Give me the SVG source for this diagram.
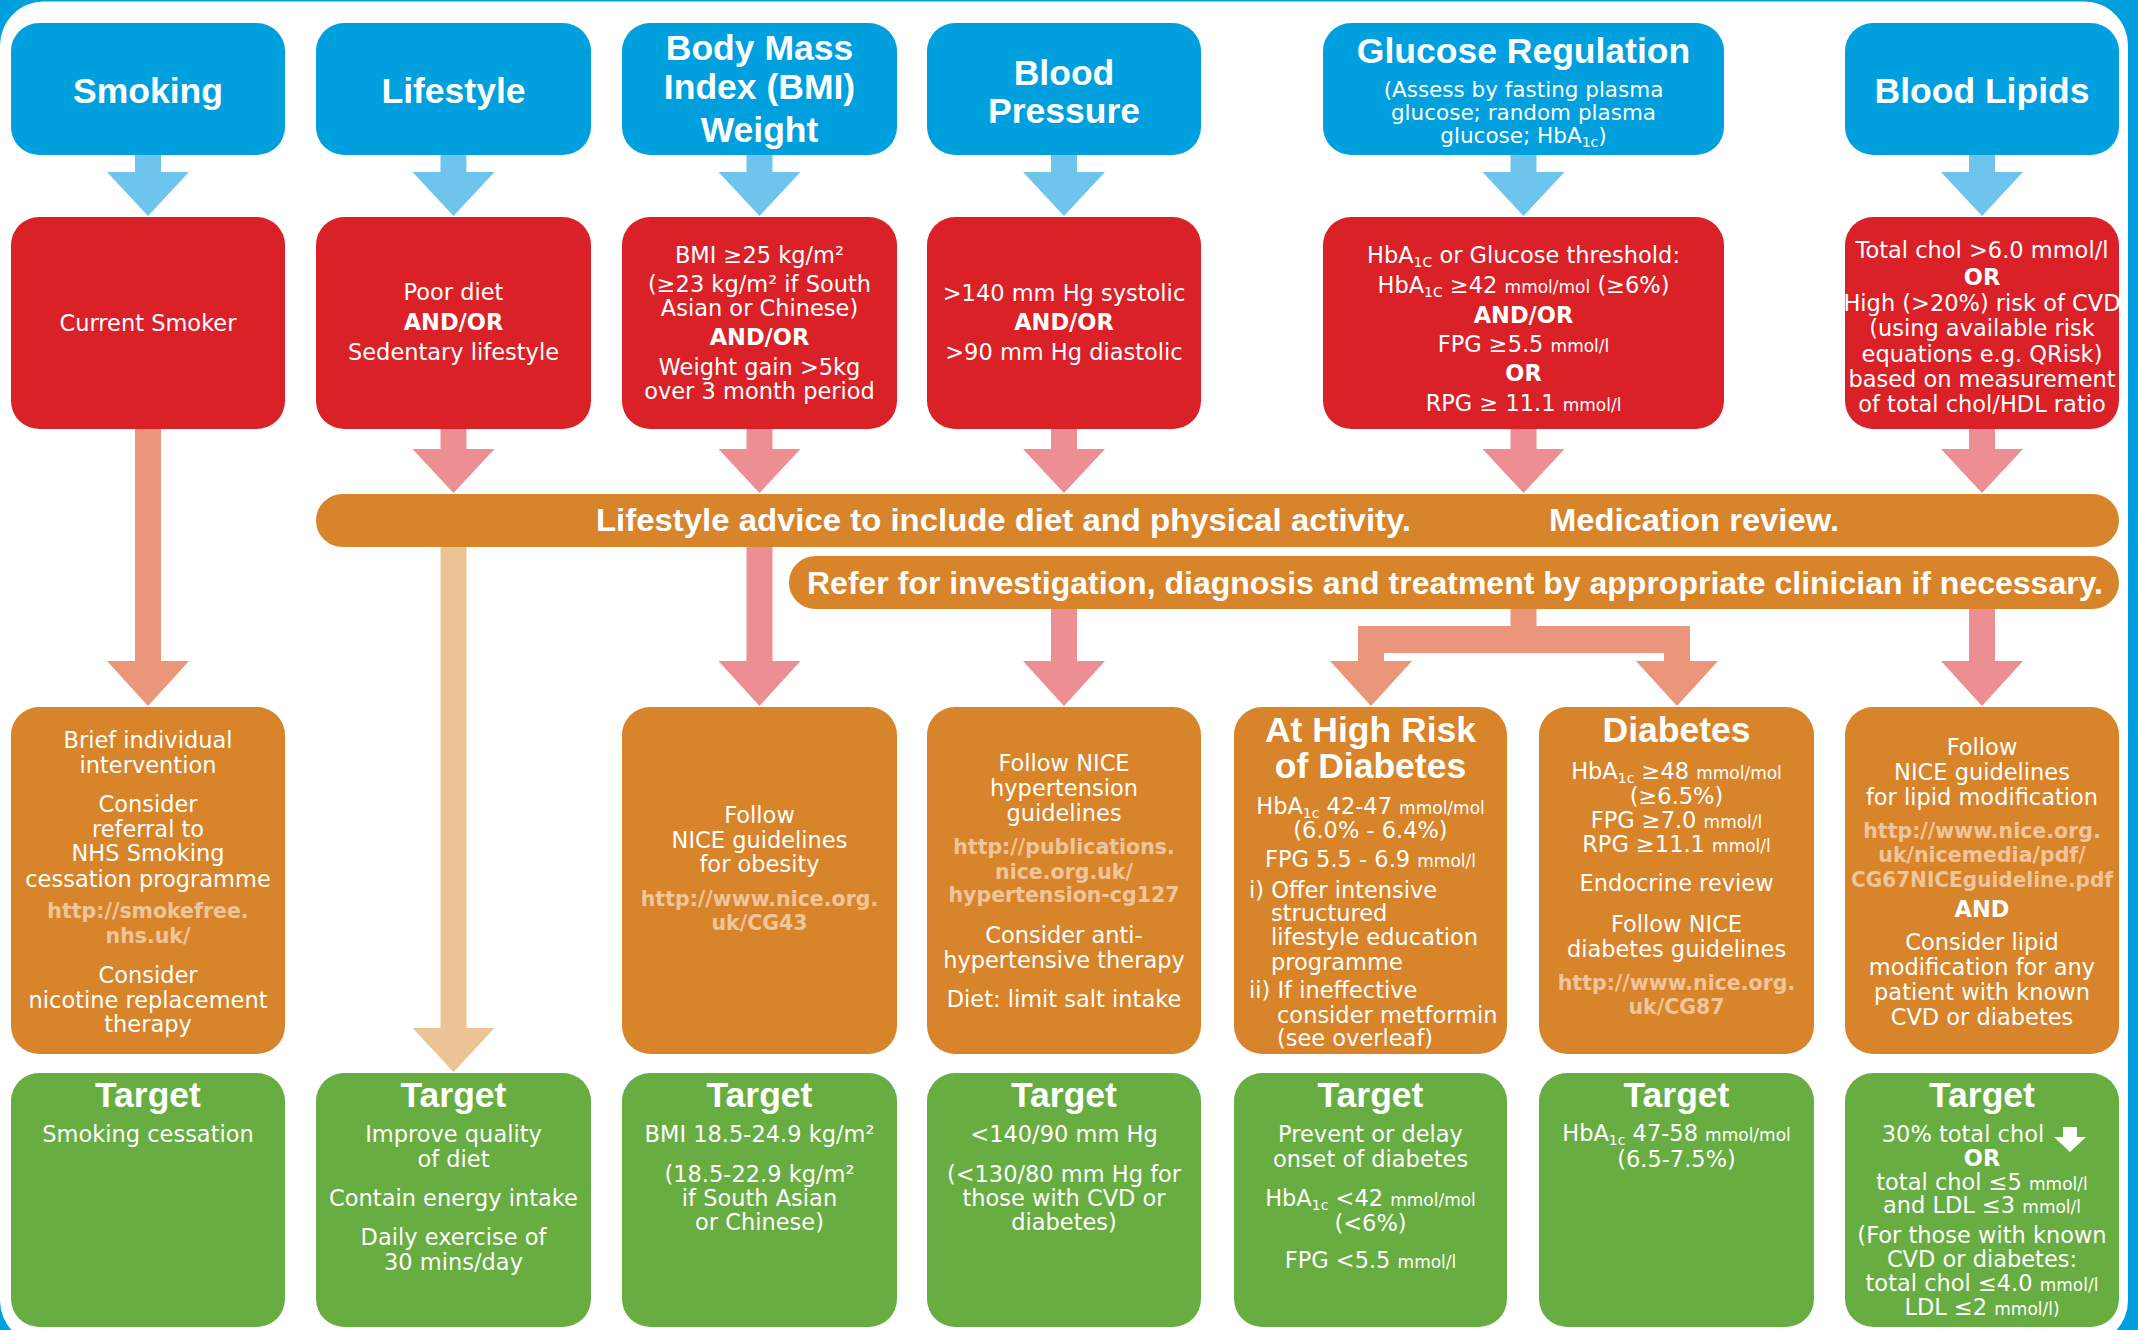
<svg xmlns="http://www.w3.org/2000/svg" width="2138" height="1330" viewBox="0 0 2138 1330">
<style>
.hd{font-family:"Liberation Sans",Arial,sans-serif;font-weight:bold;font-size:35.5px;fill:#fff;text-anchor:middle}
.t{font-family:"DejaVu Sans",sans-serif;font-size:22.5px;fill:#fff;text-anchor:middle}
.l{text-anchor:start}
.b{font-weight:bold}
.sh{font-size:21.5px}
.url{font-family:"DejaVu Sans",sans-serif;font-weight:bold;font-size:20.5px;fill:#f1c59c;text-anchor:middle}
.u{font-size:17px}
.s{font-size:14px}
.band{font-family:"Liberation Sans",Arial,sans-serif;font-weight:bold;font-size:31px;fill:#fff}
.blue{fill:#00a0de}
.red{fill:#da2128}
.org{fill:#d8842a}
.grn{fill:#68ad41}
.ab{fill:#6dc5ee}
.ap{fill:#ec8e92}
.as{fill:#eb957b}
.ae{fill:#ecc395}
</style>
<rect x="0" y="0" width="2138" height="1330" class="blue"/>
<rect x="0" y="1.5" width="2128" height="1343" rx="44" ry="44" fill="#fff"/>

<g id="connectors">
  <polygon class="ab" points="135,154 161,154 161,172 189,172 148,216 107,172 135,172"/>
  <polygon class="ab" points="440.5,154 466.5,154 466.5,172 494.5,172 453.5,216 412.5,172 440.5,172"/>
  <polygon class="ab" points="746.5,154 772.5,154 772.5,172 800.5,172 759.5,216 718.5,172 746.5,172"/>
  <polygon class="ab" points="1051,154 1077,154 1077,172 1105,172 1064,216 1023,172 1051,172"/>
  <polygon class="ab" points="1510.5,154 1536.5,154 1536.5,172 1564.5,172 1523.5,216 1482.5,172 1510.5,172"/>
  <polygon class="ab" points="1969,154 1995,154 1995,172 2023,172 1982,216 1941,172 1969,172"/>
  <polygon class="ap" points="440.5,428 466.5,428 466.5,449 494.5,449 453.5,493 412.5,449 440.5,449"/>
  <polygon class="ap" points="746.5,428 772.5,428 772.5,449 800.5,449 759.5,493 718.5,449 746.5,449"/>
  <polygon class="ap" points="1051,428 1077,428 1077,449 1105,449 1064,493 1023,449 1051,449"/>
  <polygon class="ap" points="1510.5,428 1536.5,428 1536.5,449 1564.5,449 1523.5,493 1482.5,449 1510.5,449"/>
  <polygon class="ap" points="1969,428 1995,428 1995,449 2023,449 1982,493 1941,449 1969,449"/>
  <polygon class="as" points="135,428 161,428 161,661 189,661 148,706 107,661 135,661"/>
  <polygon class="ae" points="440.5,546 466.5,546 466.5,1028 494.5,1028 453.5,1072 412.5,1028 440.5,1028"/>
  <polygon class="ap" points="746.5,546 772.5,546 772.5,661 800.5,661 759.5,706 718.5,661 746.5,661"/>
  <polygon class="ap" points="1051,608 1077,608 1077,661 1105,661 1064,706 1023,661 1051,661"/>
  <polygon class="ap" points="1969,608 1995,608 1995,661 2023,661 1982,706 1941,661 1969,661"/>
  <polygon class="as" points="1510.5,608 1536.5,608 1536.5,626 1690,626 1690,661 1718,661 1677,706 1636,661 1664,661 1664,653 1384,653 1384,661 1412,661 1371,706 1330,661 1358,661 1358,626 1510.5,626"/>
</g>

<g id="band-lifestyle">
  <rect x="316" y="494" width="1803" height="53" rx="26.5" class="org"/>
  <text class="band" x="596" y="531" textLength="815" lengthAdjust="spacingAndGlyphs">Lifestyle advice to include diet and physical activity.</text>
  <text class="band" x="1549" y="531" textLength="290" lengthAdjust="spacingAndGlyphs">Medication review.</text>
</g>
<g id="band-refer">
  <rect x="789" y="556" width="1330" height="53" rx="26.5" class="org"/>
  <text class="band" x="807" y="594" textLength="1296" lengthAdjust="spacingAndGlyphs">Refer for investigation, diagnosis and treatment by appropriate clinician if necessary.</text>
</g>

<g id="h-smoking"><rect x="11" y="23" width="274" height="132" rx="28" class="blue"/>
  <text class="hd" x="148" y="103">Smoking</text></g>
<g id="h-lifestyle"><rect x="316" y="23" width="275" height="132" rx="28" class="blue"/>
  <text class="hd" x="453.5" y="103">Lifestyle</text></g>
<g id="h-bmi"><rect x="622" y="23" width="275" height="132" rx="28" class="blue"/>
  <text class="hd" x="759.5" y="60">Body Mass</text>
  <text class="hd" x="759.5" y="99">Index (BMI)</text>
  <text class="hd" x="759.5" y="142">Weight</text></g>
<g id="h-bp"><rect x="927" y="23" width="274" height="132" rx="28" class="blue"/>
  <text class="hd" x="1064" y="85">Blood</text>
  <text class="hd" x="1064" y="123">Pressure</text></g>
<g id="h-glucose"><rect x="1323" y="23" width="401" height="132" rx="28" class="blue"/>
  <text class="hd" x="1523.5" y="63">Glucose Regulation</text>
  <text class="t sh" x="1523.5" y="97">(Assess by fasting plasma</text>
  <text class="t sh" x="1523.5" y="120">glucose; random plasma</text>
  <text class="t sh" x="1523.5" y="143">glucose; HbA<tspan class="s" dy="4">1c</tspan><tspan dy="-4">)</tspan></text></g>
<g id="h-lipids"><rect x="1845" y="23" width="274" height="132" rx="28" class="blue"/>
  <text class="hd" x="1982" y="103">Blood Lipids</text></g>

<g id="r-smoking"><rect x="11" y="217" width="274" height="212" rx="28" class="red"/>
  <text class="t" x="148" y="331">Current Smoker</text></g>
<g id="r-lifestyle"><rect x="316" y="217" width="275" height="212" rx="28" class="red"/>
  <text class="t" x="453.5" y="300">Poor diet</text>
  <text class="t b" x="453.5" y="330">AND/OR</text>
  <text class="t" x="453.5" y="360">Sedentary lifestyle</text></g>
<g id="r-bmi"><rect x="622" y="217" width="275" height="212" rx="28" class="red"/>
  <text class="t" x="759.5" y="263">BMI ≥25 kg/m²</text>
  <text class="t" x="759.5" y="292">(≥23 kg/m² if South</text>
  <text class="t" x="759.5" y="316">Asian or Chinese)</text>
  <text class="t b" x="759.5" y="345">AND/OR</text>
  <text class="t" x="759.5" y="375">Weight gain &gt;5kg</text>
  <text class="t" x="759.5" y="399">over 3 month period</text></g>
<g id="r-bp"><rect x="927" y="217" width="274" height="212" rx="28" class="red"/>
  <text class="t" x="1064" y="301">&gt;140 mm Hg systolic</text>
  <text class="t b" x="1064" y="330">AND/OR</text>
  <text class="t" x="1064" y="360">&gt;90 mm Hg diastolic</text></g>
<g id="r-glucose"><rect x="1323" y="217" width="401" height="212" rx="28" class="red"/>
  <text class="t" x="1523.5" y="263">HbA<tspan class="s" dy="4">1C</tspan><tspan dy="-4"> or Glucose threshold:</tspan></text>
  <text class="t" x="1523.5" y="293">HbA<tspan class="s" dy="4">1C</tspan><tspan dy="-4"> ≥42 </tspan><tspan class="u">mmol/mol</tspan> (≥6%)</text>
  <text class="t b" x="1523.5" y="322.5">AND/OR</text>
  <text class="t" x="1523.5" y="351.5">FPG ≥5.5 <tspan class="u">mmol/l</tspan></text>
  <text class="t b" x="1523.5" y="380.5">OR</text>
  <text class="t" x="1523.5" y="410.5">RPG ≥ 11.1 <tspan class="u">mmol/l</tspan></text></g>
<g id="r-lipids"><rect x="1845" y="217" width="274" height="212" rx="28" class="red"/>
  <text class="t" x="1982" y="258">Total chol &gt;6.0 mmol/l</text>
  <text class="t b" x="1982" y="285">OR</text>
  <text class="t" x="1982" y="311">High (&gt;20%) risk of CVD</text>
  <text class="t" x="1982" y="336">(using available risk</text>
  <text class="t" x="1982" y="362">equations e.g. QRisk)</text>
  <text class="t" x="1982" y="387">based on measurement</text>
  <text class="t" x="1982" y="412">of total chol/HDL ratio</text></g>

<g id="o-smoking"><rect x="11" y="707" width="274" height="347" rx="28" class="org"/>
  <text class="t" x="148" y="748">Brief individual</text>
  <text class="t" x="148" y="773">intervention</text>
  <text class="t" x="148" y="812">Consider</text>
  <text class="t" x="148" y="837">referral to</text>
  <text class="t" x="148" y="861">NHS Smoking</text>
  <text class="t" x="148" y="887">cessation programme</text>
  <text class="url" x="148" y="918">http://smokefree.</text>
  <text class="url" x="148" y="943">nhs.uk/</text>
  <text class="t" x="148" y="983">Consider</text>
  <text class="t" x="148" y="1008">nicotine replacement</text>
  <text class="t" x="148" y="1032">therapy</text></g>
<g id="o-bmi"><rect x="622" y="707" width="275" height="347" rx="28" class="org"/>
  <text class="t" x="759.5" y="823">Follow</text>
  <text class="t" x="759.5" y="848">NICE guidelines</text>
  <text class="t" x="759.5" y="872">for obesity</text>
  <text class="url" x="759.5" y="906">http://www.nice.org.</text>
  <text class="url" x="759.5" y="930">uk/CG43</text></g>
<g id="o-bp"><rect x="927" y="707" width="274" height="347" rx="28" class="org"/>
  <text class="t" x="1064" y="771">Follow NICE</text>
  <text class="t" x="1064" y="796">hypertension</text>
  <text class="t" x="1064" y="821">guidelines</text>
  <text class="url" x="1064" y="854">http://publications.</text>
  <text class="url" x="1064" y="879">nice.org.uk/</text>
  <text class="url" x="1064" y="902">hypertension-cg127</text>
  <text class="t" x="1064" y="943">Consider anti-</text>
  <text class="t" x="1064" y="968">hypertensive therapy</text>
  <text class="t" x="1064" y="1007">Diet: limit salt intake</text></g>
<g id="o-highrisk"><rect x="1234" y="707" width="273" height="347" rx="28" class="org"/>
  <text class="hd" x="1370.5" y="742">At High Risk</text>
  <text class="hd" x="1370.5" y="778">of Diabetes</text>
  <text class="t" x="1370.5" y="814">HbA<tspan class="s" dy="4">1c</tspan><tspan dy="-4"> 42-47 </tspan><tspan class="u">mmol/mol</tspan></text>
  <text class="t" x="1370.5" y="838">(6.0% - 6.4%)</text>
  <text class="t" x="1370.5" y="866.5">FPG 5.5 - 6.9 <tspan class="u">mmol/l</tspan></text>
  <text class="t l" x="1249" y="898">i) Offer intensive</text>
  <text class="t l" x="1271" y="921">structured</text>
  <text class="t l" x="1271" y="945">lifestyle education</text>
  <text class="t l" x="1271" y="970">programme</text>
  <text class="t l" x="1249" y="998">ii) If ineffective</text>
  <text class="t l" x="1277" y="1023">consider metformin</text>
  <text class="t l" x="1277" y="1046">(see overleaf)</text></g>
<g id="o-diabetes"><rect x="1539" y="707" width="275" height="347" rx="28" class="org"/>
  <text class="hd" x="1676.5" y="742">Diabetes</text>
  <text class="t" x="1676.5" y="779">HbA<tspan class="s" dy="4">1c</tspan><tspan dy="-4"> ≥48 </tspan><tspan class="u">mmol/mol</tspan></text>
  <text class="t" x="1676.5" y="804">(≥6.5%)</text>
  <text class="t" x="1676.5" y="828">FPG ≥7.0 <tspan class="u">mmol/l</tspan></text>
  <text class="t" x="1676.5" y="852">RPG ≥11.1 <tspan class="u">mmol/l</tspan></text>
  <text class="t" x="1676.5" y="891">Endocrine review</text>
  <text class="t" x="1676.5" y="932">Follow NICE</text>
  <text class="t" x="1676.5" y="957">diabetes guidelines</text>
  <text class="url" x="1676.5" y="990">http://www.nice.org.</text>
  <text class="url" x="1676.5" y="1014">uk/CG87</text></g>
<g id="o-lipids"><rect x="1845" y="707" width="274" height="347" rx="28" class="org"/>
  <text class="t" x="1982" y="755">Follow</text>
  <text class="t" x="1982" y="780">NICE guidelines</text>
  <text class="t" x="1982" y="805">for lipid modification</text>
  <text class="url" x="1982" y="838">http://www.nice.org.</text>
  <text class="url" x="1982" y="862">uk/nicemedia/pdf/</text>
  <text class="url" x="1982" y="887" textLength="262" lengthAdjust="spacingAndGlyphs">CG67NICEguideline.pdf</text>
  <text class="t b" x="1982" y="917">AND</text>
  <text class="t" x="1982" y="950">Consider lipid</text>
  <text class="t" x="1982" y="975">modification for any</text>
  <text class="t" x="1982" y="1000">patient with known</text>
  <text class="t" x="1982" y="1025">CVD or diabetes</text></g>

<g id="g-smoking"><rect x="11" y="1073" width="274" height="254" rx="28" class="grn"/>
  <text class="hd" x="148" y="1107">Target</text>
  <text class="t" x="148" y="1142">Smoking cessation</text></g>
<g id="g-lifestyle"><rect x="316" y="1073" width="275" height="254" rx="28" class="grn"/>
  <text class="hd" x="453.5" y="1107">Target</text>
  <text class="t" x="453.5" y="1142">Improve quality</text>
  <text class="t" x="453.5" y="1167">of diet</text>
  <text class="t" x="453.5" y="1206">Contain energy intake</text>
  <text class="t" x="453.5" y="1245">Daily exercise of</text>
  <text class="t" x="453.5" y="1270">30 mins/day</text></g>
<g id="g-bmi"><rect x="622" y="1073" width="275" height="254" rx="28" class="grn"/>
  <text class="hd" x="759.5" y="1107">Target</text>
  <text class="t" x="759.5" y="1142">BMI 18.5-24.9 kg/m²</text>
  <text class="t" x="759.5" y="1182">(18.5-22.9 kg/m²</text>
  <text class="t" x="759.5" y="1206">if South Asian</text>
  <text class="t" x="759.5" y="1230">or Chinese)</text></g>
<g id="g-bp"><rect x="927" y="1073" width="274" height="254" rx="28" class="grn"/>
  <text class="hd" x="1064" y="1107">Target</text>
  <text class="t" x="1064" y="1142">&lt;140/90 mm Hg</text>
  <text class="t" x="1064" y="1182">(&lt;130/80 mm Hg for</text>
  <text class="t" x="1064" y="1206">those with CVD or</text>
  <text class="t" x="1064" y="1230">diabetes)</text></g>
<g id="g-highrisk"><rect x="1234" y="1073" width="273" height="254" rx="28" class="grn"/>
  <text class="hd" x="1370.5" y="1107">Target</text>
  <text class="t" x="1370.5" y="1142">Prevent or delay</text>
  <text class="t" x="1370.5" y="1167">onset of diabetes</text>
  <text class="t" x="1370.5" y="1206">HbA<tspan class="s" dy="4">1c</tspan><tspan dy="-4"> &lt;42 </tspan><tspan class="u">mmol/mol</tspan></text>
  <text class="t" x="1370.5" y="1231">(&lt;6%)</text>
  <text class="t" x="1370.5" y="1268">FPG &lt;5.5 <tspan class="u">mmol/l</tspan></text></g>
<g id="g-diabetes"><rect x="1539" y="1073" width="275" height="254" rx="28" class="grn"/>
  <text class="hd" x="1676.5" y="1107">Target</text>
  <text class="t" x="1676.5" y="1141">HbA<tspan class="s" dy="4">1c</tspan><tspan dy="-4"> 47-58 </tspan><tspan class="u">mmol/mol</tspan></text>
  <text class="t" x="1676.5" y="1167">(6.5-7.5%)</text></g>
<g id="g-lipids"><rect x="1845" y="1073" width="274" height="254" rx="28" class="grn"/>
  <text class="hd" x="1982" y="1107">Target</text>
  <text class="t" x="1963" y="1142">30% total chol</text>
  <polygon points="2063,1127 2077,1127 2077,1137 2086,1137 2070,1152 2054,1137 2063,1137" fill="#fff"/>
  <text class="t b" x="1982" y="1166">OR</text>
  <text class="t" x="1982" y="1190">total chol ≤5 <tspan class="u">mmol/l</tspan></text>
  <text class="t" x="1982" y="1213">and LDL ≤3 <tspan class="u">mmol/l</tspan></text>
  <text class="t" x="1982" y="1243">(For those with known</text>
  <text class="t" x="1982" y="1267">CVD or diabetes:</text>
  <text class="t" x="1982" y="1291">total chol ≤4.0 <tspan class="u">mmol/l</tspan></text>
  <text class="t" x="1982" y="1315">LDL ≤2 <tspan class="u">mmol/l)</tspan></text></g>
</svg>
